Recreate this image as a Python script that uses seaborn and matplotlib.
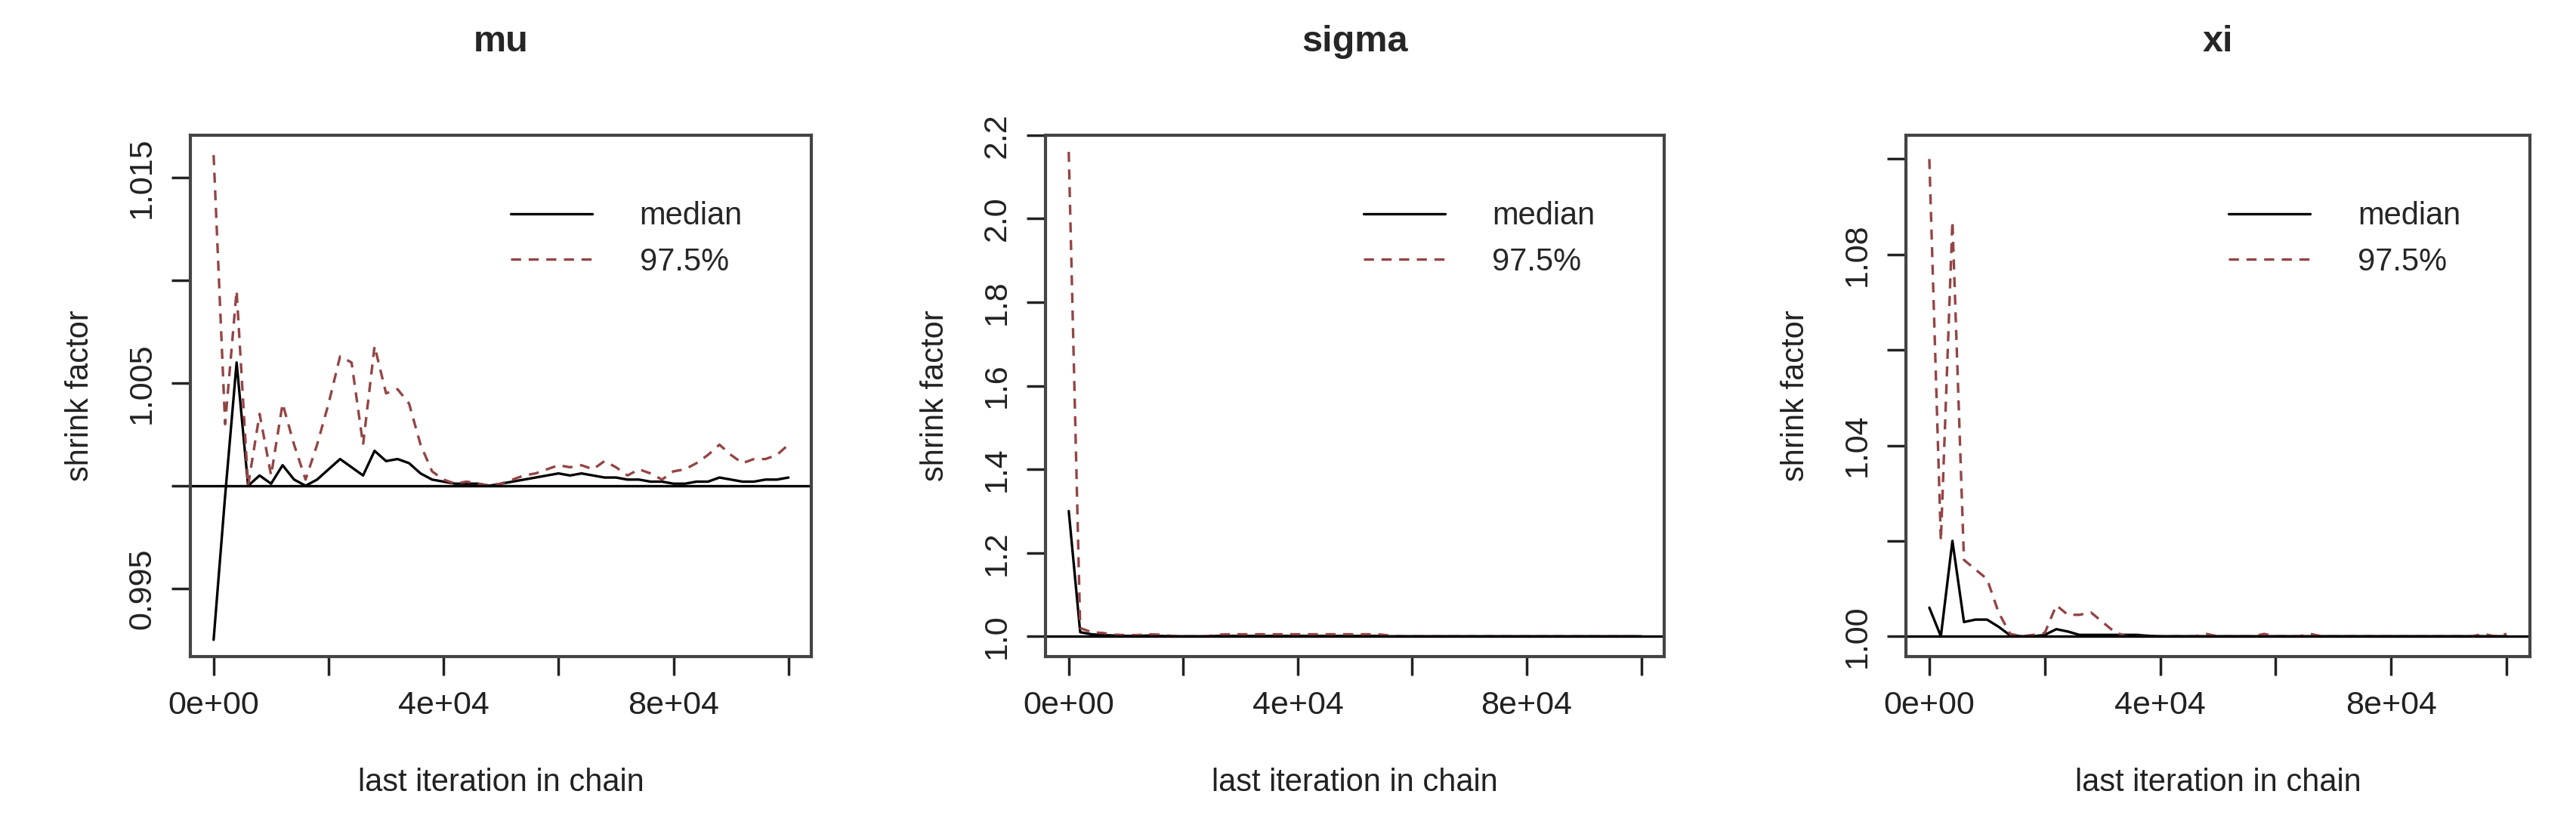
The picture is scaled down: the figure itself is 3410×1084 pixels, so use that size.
import matplotlib

matplotlib.use("Agg")
import matplotlib.pyplot as plt
import numpy as np
import pandas as pd
import seaborn as sns

sns.set_theme(style="white")
plt.rcParams["font.family"] = ["Liberation Sans", "DejaVu Sans"]

# last iteration in chain (every 2000 iterations)
iterations = list(range(0, 100001, 2000))

mu_median = [0.9925, 0.9995, 1.0060, 1.0000, 1.0005, 1.0001, 1.0010, 1.0003, 1.0000, 1.0003,
             1.0008, 1.0013, 1.0009, 1.0005, 1.0017, 1.0012, 1.0013, 1.0011, 1.0006, 1.0003,
             1.0002, 1.0001, 1.0001, 1.0001, 1.0000, 1.0001, 1.0002, 1.0003, 1.0004, 1.0005,
             1.0006, 1.0005, 1.0006, 1.0005, 1.0004, 1.0004, 1.0003, 1.0003, 1.0002, 1.0002,
             1.0001, 1.0001, 1.0002, 1.0002, 1.0004, 1.0003, 1.0002, 1.0002, 1.0003, 1.0003,
             1.0004]
mu_upper = [1.0161, 1.0030, 1.0095, 1.0000, 1.0035, 1.0005, 1.0040, 1.0020, 1.0003, 1.0020,
            1.0040, 1.0063, 1.0060, 1.0020, 1.0068, 1.0045, 1.0047, 1.0040, 1.0020, 1.0007,
            1.0003, 1.0001, 1.0002, 1.0001, 1.0000, 1.0001, 1.0003, 1.0005, 1.0006, 1.0008,
            1.0010, 1.0009, 1.0010, 1.0008, 1.0012, 1.0009, 1.0005, 1.0008, 1.0006, 1.0003,
            1.0007, 1.0008, 1.0011, 1.0015, 1.0020, 1.0015, 1.0011, 1.0013, 1.0013, 1.0015,
            1.0020]

sigma_median = [1.30, 1.010, 1.005, 1.003, 1.002, 1.001, 1.001, 1.002, 1.001, 1.000,
                1.000, 1.000, 1.000, 1.001, 1.001, 1.001, 1.001, 1.001, 1.001, 1.001,
                1.001, 1.001, 1.001, 1.001, 1.001, 1.001, 1.001, 1.001, 1.000, 1.000,
                1.000, 1.000, 1.000, 1.000, 1.000, 1.000, 1.000, 1.000, 1.000, 1.000,
                1.000, 1.000, 1.000, 1.000, 1.000, 1.000, 1.000, 1.000, 1.000, 1.000,
                1.000]
sigma_upper = [2.16, 1.020, 1.010, 1.008, 1.004, 1.003, 1.003, 1.005, 1.004, 1.001,
               1.000, 1.000, 1.000, 1.004, 1.005, 1.005, 1.005, 1.005, 1.005, 1.005,
               1.005, 1.005, 1.005, 1.005, 1.005, 1.005, 1.005, 1.005, 1.002, 1.000,
               1.000, 1.000, 1.000, 1.000, 1.000, 1.000, 1.000, 1.000, 1.000, 1.000,
               1.000, 1.000, 1.000, 1.000, 1.000, 1.000, 1.000, 1.000, 1.000, 1.000,
               1.000]

xi_median = [1.006, 1.000, 1.020, 1.003, 1.0035, 1.0035, 1.002, 1.0002, 1.000, 1.000,
             1.0003, 1.0015, 1.001, 1.0003, 1.0003, 1.0003, 1.0003, 1.0003, 1.0003, 1.0001,
             1.000, 1.000, 1.000, 1.000, 1.000, 1.000, 1.000, 1.000, 1.000, 1.000,
             1.000, 1.000, 1.000, 1.000, 1.000, 1.000, 1.000, 1.000, 1.000, 1.000,
             1.000, 1.000, 1.000, 1.000, 1.000, 1.000, 1.000, 1.000, 1.000, 1.000,
             1.000]
xi_upper = [1.100, 1.020, 1.087, 1.016, 1.014, 1.012, 1.005, 1.0005, 1.000, 1.0003,
            1.0007, 1.0065, 1.0045, 1.0045, 1.005, 1.003, 1.001, 1.000, 1.000, 1.000,
            1.000, 1.000, 1.000, 1.000, 1.0005, 1.000, 1.000, 1.000, 1.000, 1.0005,
            1.000, 1.000, 1.000, 1.0005, 1.000, 1.000, 1.000, 1.000, 1.000, 1.000,
            1.000, 1.000, 1.000, 1.000, 1.000, 1.000, 1.000, 1.000, 1.0005, 1.000,
            1.0005]

panels = [
    ("mu", mu_median, mu_upper, (0.99167, 1.01707), [0.995, 1.0, 1.005, 1.01, 1.015],
     ["0.995", "", "1.005", "", "1.015"], [0.074, 0.315]),
    ("sigma", sigma_median, sigma_upper, (0.951, 2.2), [1.0, 1.2, 1.4, 1.6, 1.8, 2.0, 2.2],
     ["1.0", "1.2", "1.4", "1.6", "1.8", "2.0", "2.2"], [0.406, 0.646]),
    ("xi", xi_median, xi_upper, (0.9957, 1.105), [1.0, 1.02, 1.04, 1.06, 1.08, 1.10],
     ["1.00", "", "1.04", "", "1.08", ""], [0.740, 0.982]),
]

RED = "#944444"
fig = plt.figure(figsize=(34.1, 10.84), dpi=100)

for name, med, upp, ylim, yticks, ylabels, (x0, x1) in panels:
    ax = fig.add_axes([x0, 0.198, x1 - x0, 0.835 - 0.198])
    df = pd.DataFrame({"iter": iterations, "median": med, "97.5%": upp})
    sns.lineplot(data=df, x="iter", y="median", ax=ax, color="black", lw=2.4, label="median")
    sns.lineplot(data=df, x="iter", y="97.5%", ax=ax, color=RED, lw=2.4,
                 linestyle=(0, (4, 3)), label="97.5%")
    ax.axhline(1.0, color="black", lw=2.4)
    ax.set_xlim(-4000, 104000)
    ax.set_ylim(*ylim)
    ax.set_xticks(range(0, 100001, 20000))
    ax.set_xticklabels(["0e+00", "", "4e+04", "", "8e+04", ""])
    ax.set_yticks(yticks)
    ax.set_yticklabels(ylabels, rotation=90, va="center")
    ax.tick_params(axis="both", direction="out", length=18, width=2.5, labelsize=31,
                   color="#222222", labelcolor="#222222", bottom=True, left=True, pad=14)
    for s in ax.spines.values():
        s.set_linewidth(3)
        s.set_color("#444444")
    ax.set_title(name, fontsize=35, fontweight="bold", pad=80)
    ax.set_xlabel("last iteration in chain", fontsize=30, labelpad=45, color="#222222")
    ax.set_ylabel("shrink factor", fontsize=30, labelpad=30, color="#222222")
    ax.legend(loc="upper right", frameon=False, fontsize=30, handlelength=2.6,
              handletextpad=1.5, borderaxespad=1.2, bbox_to_anchor=(0.97, 0.97))

fig.savefig("out.png", dpi=100, facecolor="white")
